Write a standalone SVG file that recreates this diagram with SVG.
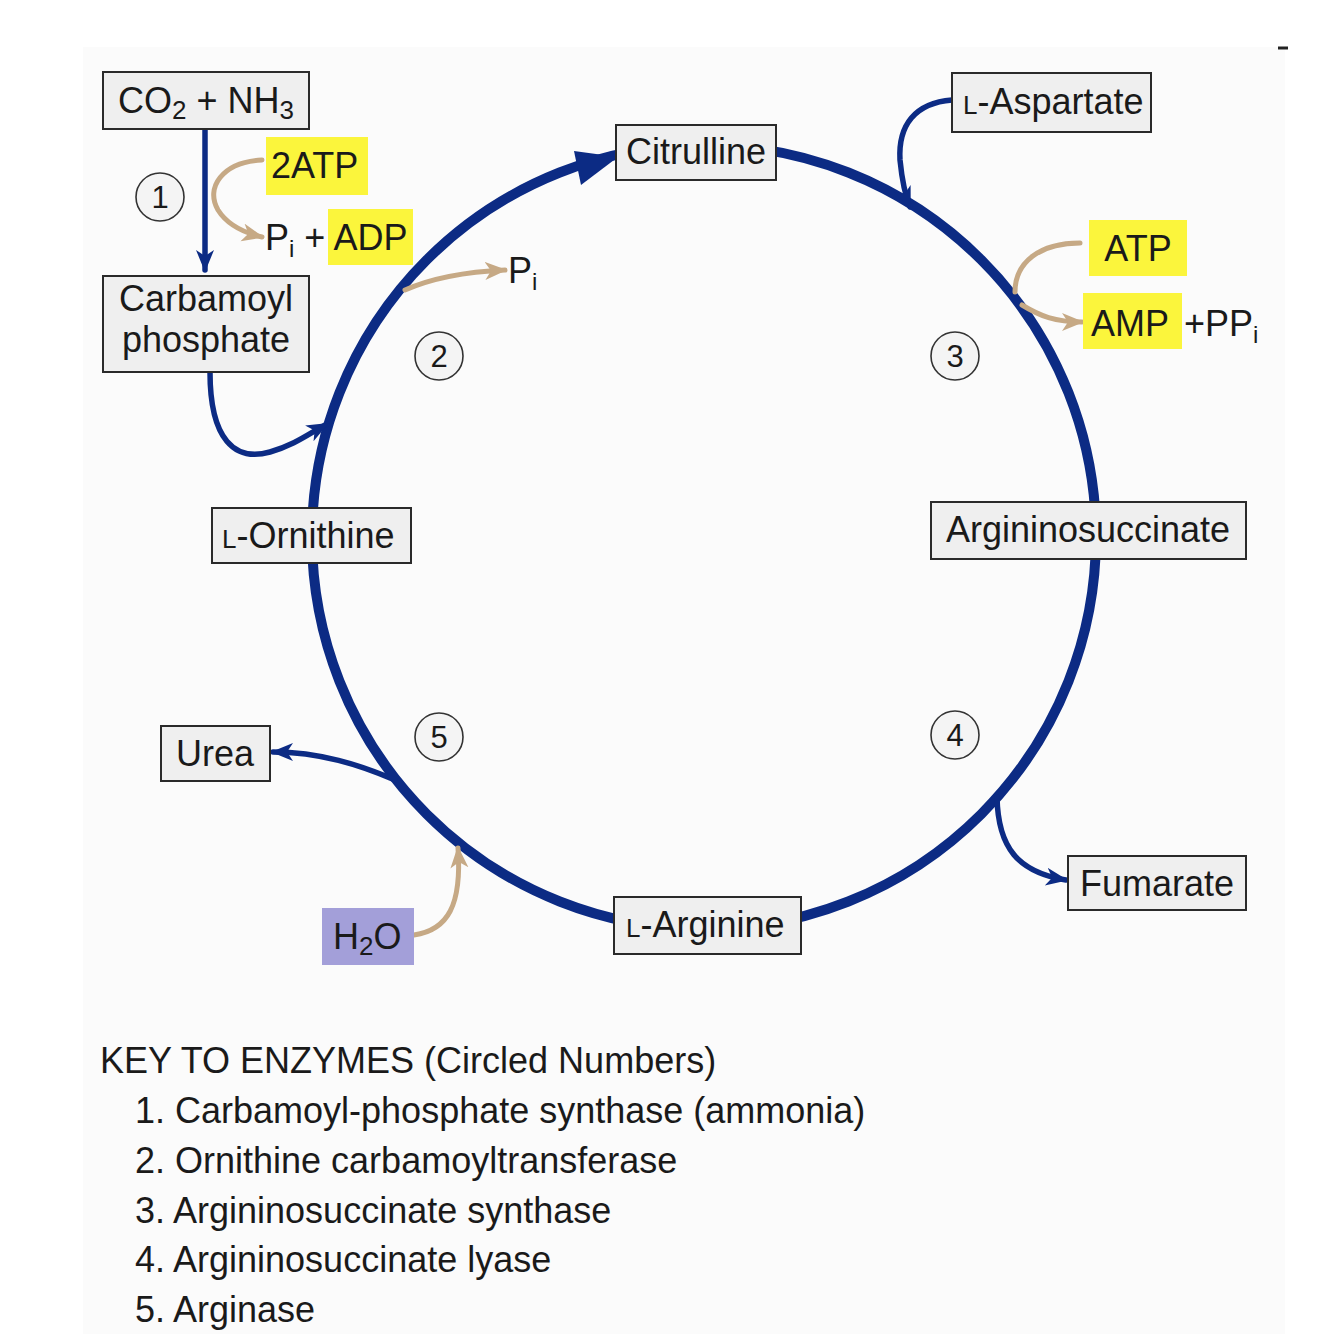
<svg xmlns="http://www.w3.org/2000/svg" width="1334" height="1334" viewBox="0 0 1334 1334">
<style>
text{font-family:"Liberation Sans",Arial,sans-serif;fill:#1a1a1a}
.lbl{font-size:36px}
.box{fill:#efefef;stroke:#2a2a2a;stroke-width:2}
.hl{fill:#fbf53c}
.num{fill:#f4f4f4;stroke:#333;stroke-width:1.6}
.numt{font-size:31px;text-anchor:middle}
.nv{fill:none;stroke:#0c2b84;stroke-width:5.5;stroke-linecap:round}
.tan{fill:none;stroke:#c6a985;stroke-width:5;stroke-linecap:round}
.key{font-size:36px}
</style>
<defs>
<marker id="an" markerUnits="userSpaceOnUse" markerWidth="24" markerHeight="20" refX="20" refY="9" orient="auto">
<path d="M0,0 L22,9 L0,18 L6,9 z" fill="#0c2b84"/>
</marker>
<marker id="at" markerUnits="userSpaceOnUse" markerWidth="24" markerHeight="20" refX="20" refY="9" orient="auto">
<path d="M0,0 L22,9 L0,18 L6,9 z" fill="#c6a985"/>
</marker>
</defs>
<rect x="0" y="0" width="1334" height="1334" fill="#ffffff"/>
<rect x="83" y="47" width="1202" height="1287" fill="#fbfbfb"/>
<line x1="1278" y1="48" x2="1288" y2="48" stroke="#222" stroke-width="3"/>

<g id="connectors">
<circle cx="704" cy="537" r="392" fill="none" stroke="#0c2b84" stroke-width="10"/>
<polygon points="618,157 574,151 581,185" fill="#0c2b84"/>
<path class="nv" d="M205,129 L205,270" marker-end="url(#an)"/>
<path class="tan" d="M262,160 C222,162 205,188 218,210 C228,226 245,233 262,237" marker-end="url(#at)"/>
<path class="nv" d="M210,372 C210,440 235,462 270,452 C295,445 310,433 327,424" marker-end="url(#an)"/>
<path class="tan" d="M405,290 C432,278 462,272 505,270" marker-end="url(#at)"/>
<path class="nv" d="M952,100 C915,103 898,125 900,160 C902,180 905,195 910,207" marker-end="url(#an)"/>
<path class="tan" d="M1080,243 C1040,243 1015,262 1015,292"/>
<path class="tan" d="M1022,305 C1040,316 1055,322 1082,322" marker-end="url(#at)"/>
<path class="nv" d="M997,797 C998,848 1018,872 1066,880" marker-end="url(#an)"/>
<path class="nv" d="M395,780 C360,765 320,752 273,752" marker-end="url(#an)"/>
<path class="tan" d="M414,935 C448,930 462,905 458,848" marker-end="url(#at)"/>
</g>

<g id="co2nh3">
<rect class="box" x="103" y="72" width="206" height="57"/>
<text class="lbl" x="118" y="113">CO<tspan font-size="26" dy="6">2</tspan><tspan dy="-6"> + NH</tspan><tspan font-size="26" dy="6">3</tspan></text>
</g>
<g id="atp2">
<rect class="hl" x="266" y="137" width="102" height="58"/>
<text class="lbl" x="271" y="178">2ATP</text>
</g>
<g id="piadp">
<rect class="hl" x="328" y="209" width="85" height="56"/>
<text class="lbl" x="265" y="250">P<tspan font-size="24" dy="7">i</tspan><tspan dy="-7"> + ADP</tspan></text>
</g>
<g id="carbamoyl">
<rect class="box" x="103" y="276" width="206" height="96"/>
<text class="lbl" x="206" y="311" text-anchor="middle">Carbamoyl</text>
<text class="lbl" x="206" y="352" text-anchor="middle">phosphate</text>
</g>
<g id="citrulline">
<rect class="box" x="616" y="125" width="160" height="55"/>
<text class="lbl" x="696" y="164" text-anchor="middle">Citrulline</text>
</g>
<g id="pi2">
<text class="lbl" x="508" y="283">P<tspan font-size="24" dy="7">i</tspan></text>
</g>
<g id="aspartate">
<rect class="box" x="952" y="73" width="199" height="59"/>
<text class="lbl" x="963" y="114"><tspan font-size="26">L</tspan>-Aspartate</text>
</g>
<g id="atp">
<rect class="hl" x="1089" y="220" width="98" height="56"/>
<text class="lbl" x="1138" y="261" text-anchor="middle">ATP</text>
</g>
<g id="amppp">
<rect class="hl" x="1083" y="293" width="99" height="56"/>
<text class="lbl" x="1091" y="336">AMP</text>
<text class="lbl" x="1184" y="336">+PP<tspan font-size="24" dy="7">i</tspan></text>
</g>
<g id="argininosuccinate">
<rect class="box" x="931" y="502" width="315" height="57"/>
<text class="lbl" x="1088" y="542" text-anchor="middle">Argininosuccinate</text>
</g>
<g id="ornithine">
<rect class="box" x="212" y="508" width="199" height="55"/>
<text class="lbl" x="222" y="548"><tspan font-size="26">L</tspan>-Ornithine</text>
</g>
<g id="urea">
<rect class="box" x="161" y="726" width="109" height="55"/>
<text class="lbl" x="215" y="766" text-anchor="middle">Urea</text>
</g>
<g id="h2o">
<rect x="322" y="908" width="92" height="57" fill="#a39fd9"/>
<text class="lbl" x="333" y="949">H<tspan font-size="26" dy="6">2</tspan><tspan dy="-6">O</tspan></text>
</g>
<g id="arginine">
<rect class="box" x="614" y="897" width="187" height="57"/>
<text class="lbl" x="626" y="937"><tspan font-size="26">L</tspan>-Arginine</text>
</g>
<g id="fumarate">
<rect class="box" x="1068" y="856" width="178" height="54"/>
<text class="lbl" x="1157" y="896" text-anchor="middle">Fumarate</text>
</g>

<g id="n1"><circle class="num" cx="160" cy="197" r="24"/><text class="numt" x="160" y="208">1</text></g>
<g id="n2"><circle class="num" cx="439" cy="356" r="24"/><text class="numt" x="439" y="367">2</text></g>
<g id="n3"><circle class="num" cx="955" cy="356" r="24"/><text class="numt" x="955" y="367">3</text></g>
<g id="n4"><circle class="num" cx="955" cy="735" r="24"/><text class="numt" x="955" y="746">4</text></g>
<g id="n5"><circle class="num" cx="439" cy="737" r="24"/><text class="numt" x="439" y="748">5</text></g>

<g id="key">
<text class="key" x="100" y="1073">KEY TO ENZYMES (Circled Numbers)</text>
<text class="key" x="135" y="1123">1. Carbamoyl-phosphate synthase (ammonia)</text>
<text class="key" x="135" y="1173">2. Ornithine carbamoyltransferase</text>
<text class="key" x="135" y="1223">3. Argininosuccinate synthase</text>
<text class="key" x="135" y="1272">4. Argininosuccinate lyase</text>
<text class="key" x="135" y="1322">5. Arginase</text>
</g>
</svg>
